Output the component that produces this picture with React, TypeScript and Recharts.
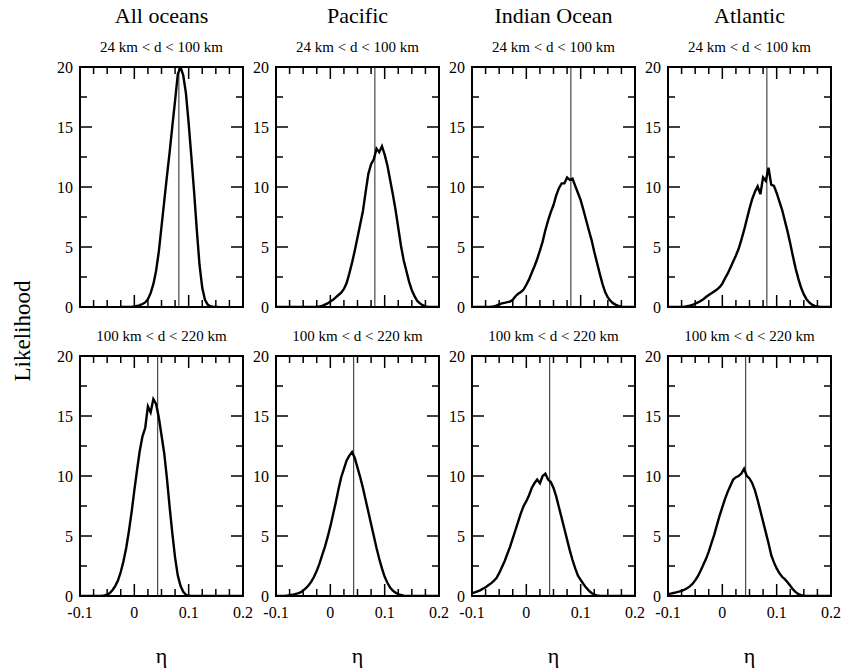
import { LineChart, Line, XAxis, YAxis, ReferenceLine, ReferenceArea } from "recharts";

// eta grid shared by every histogram
const eta = [
  -0.1, -0.095, -0.09, -0.085, -0.08, -0.075, -0.07, -0.065, -0.06, -0.055,
  -0.05, -0.045, -0.04, -0.035, -0.03, -0.025, -0.02, -0.015, -0.01, -0.005,
  0, 0.005, 0.01, 0.015, 0.02, 0.025, 0.03, 0.035, 0.04, 0.045,
  0.05, 0.055, 0.06, 0.065, 0.07, 0.075, 0.08, 0.085, 0.09, 0.095,
  0.1, 0.105, 0.11, 0.115, 0.12, 0.125, 0.13, 0.135, 0.14, 0.145,
  0.15, 0.155, 0.16, 0.165, 0.17, 0.175, 0.18, 0.185, 0.19, 0.195, 0.2,
];

// 24 km < d < 100 km
const allNear = [
  null, null, null, null, null, null, null, null, null, null,
  null, null, null, null, null, 0, 0, 0, 0, 0,
  0.05, 0.08, 0.15, 0.25, 0.38, 0.65, 1.15, 1.9, 3.0, 4.6,
  6.7, 8.8, 10.9, 12.9, 15.1, 17.2, 19.4, 20.0, 19.3, 17.8,
  15.3, 12.5, 9.6, 6.4, 3.5, 1.6, 0.6, 0.2, 0.06, 0.02,
  0, 0, null, null, null, null, null, null, null, null, null,
];
const pacificNear = [
  0, 0, 0, 0, 0, 0, 0, 0, 0, 0,
  0, 0, 0, 0, 0, 0.02, 0.05, 0.1, 0.2, 0.3,
  0.45, 0.6, 0.8, 1.0, 1.2, 1.5, 2.0, 2.8, 3.7, 4.7,
  5.8, 6.9, 8.0, 9.6, 11.1, 11.9, 12.3, 13.2, 12.9, 13.4,
  12.7, 11.8, 10.6, 9.4, 8.1, 6.6, 5.1, 3.9, 3.0, 2.1,
  1.4, 0.9, 0.5, 0.3, 0.15, 0.05, 0, 0, 0, 0, 0,
];
const indianNear = [
  0, 0, 0, 0, 0, 0, 0, 0.02, 0.05, 0.12,
  0.22, 0.3, 0.35, 0.4, 0.45, 0.6, 0.9, 1.1, 1.25, 1.45,
  1.85, 2.3, 2.85, 3.4, 4.0, 4.7, 5.45, 6.4, 7.2, 7.9,
  8.5, 9.3, 9.9, 10.3, 10.3, 10.8, 10.6, 10.7, 10.1, 9.5,
  8.9, 8.1, 7.25, 6.4, 5.6, 4.6, 3.7, 2.8, 1.95, 1.25,
  0.8, 0.5, 0.3, 0.18, 0.08, 0.03, 0, 0, 0, 0, 0,
];
const atlanticNear = [
  0, 0, 0, 0, 0, 0, 0.03, 0.07, 0.12, 0.18,
  0.27, 0.38, 0.5, 0.65, 0.83, 1.0, 1.15, 1.3, 1.45, 1.65,
  1.95, 2.4, 2.8, 3.3, 3.8, 4.3, 4.85, 5.6, 6.4, 7.3,
  8.2, 9.0, 9.6, 10.05, 9.4, 10.8, 10.5, 11.6, 10.2, 10.1,
  9.5, 8.8, 8.1, 7.2, 6.3, 5.3, 4.2, 3.2, 2.35, 1.6,
  1.05, 0.65, 0.38, 0.2, 0.1, 0.04, 0, 0, 0, 0, 0,
];

// 100 km < d < 220 km
const allFar = [
  0, 0, 0, 0, 0, 0, 0, 0, 0.02, 0.05,
  0.12, 0.25, 0.5, 0.85, 1.3, 2.0, 2.9, 4.0, 5.4, 7.0,
  8.8, 10.5, 12.1, 13.3, 14.0, 15.8, 15.3, 16.4, 16.0, 14.9,
  13.4, 11.9, 9.8, 7.4, 5.2, 3.2, 1.7, 0.85, 0.35, 0.1,
  0.02, 0, 0, 0, 0, 0, 0, 0, 0, 0,
  0, 0, 0, 0, 0, 0, 0, 0, 0, 0, 0,
];
const pacificFar = [
  0, 0, 0, 0, 0.03, 0.06, 0.1, 0.15, 0.22, 0.3,
  0.45, 0.65, 0.9, 1.2, 1.6, 2.1, 2.7, 3.4, 4.1, 4.9,
  5.8, 6.8, 7.8, 8.9, 9.9, 10.6, 11.3, 11.7, 12.0, 11.5,
  10.7, 9.9, 9.0, 8.0, 7.0, 6.0, 5.0, 4.0, 3.1, 2.3,
  1.6, 1.1, 0.7, 0.45, 0.28, 0.16, 0.08, 0.03, 0, 0,
  0, 0, 0, 0, 0, 0, 0, 0, 0, 0, 0,
];
const indianFar = [
  0.25, 0.3, 0.38, 0.47, 0.6, 0.72, 0.9, 1.05, 1.25, 1.5,
  1.9, 2.4, 2.9, 3.5, 4.1, 4.8, 5.5, 6.2, 6.9, 7.5,
  7.9, 8.4, 9.0, 9.4, 9.7, 9.4, 10.0, 10.2, 9.7, 9.5,
  9.0, 8.3, 7.4, 6.5, 5.6, 4.7, 3.8, 3.0, 2.3, 1.7,
  1.35, 1.0, 0.7, 0.45, 0.25, 0.12, 0.05, 0.02, 0, 0,
  0, 0, 0, 0, 0, 0, 0, 0, 0, 0, 0,
];
const atlanticFar = [
  0.15, 0.2, 0.25, 0.3, 0.36, 0.43, 0.52, 0.65, 0.8, 1.0,
  1.3, 1.65, 2.1, 2.6, 3.1, 3.7, 4.4, 5.1, 5.9, 6.7,
  7.4, 8.1, 8.7, 9.2, 9.7, 9.9, 10.0, 10.2, 10.6, 10.0,
  9.8, 9.4, 8.8, 8.0, 7.1, 6.2, 5.3, 4.4, 3.4, 2.8,
  2.3, 1.9, 1.6, 1.4, 1.15, 0.85, 0.55, 0.32, 0.16, 0.07,
  0.02, 0, 0, 0, 0, 0, 0, 0, 0, 0, 0,
];

const basins = ["All oceans", "Pacific", "Indian Ocean", "Atlantic"];
const bands = ["24 km < d < 100 km", "100 km < d < 220 km"];
const meanEta = [0.082, 0.043];
const curves = [
  [allNear, pacificNear, indianNear, atlanticNear],
  [allFar, pacificFar, indianFar, atlanticFar],
];

const xTicks = [-0.1, -0.075, -0.05, -0.025, 0, 0.025, 0.05, 0.075, 0.1, 0.125, 0.15, 0.175, 0.2];
const yTicks = [0, 2.5, 5, 7.5, 10, 12.5, 15, 17.5, 20];

const FONT = '"Liberation Serif", "DejaVu Serif", serif';
const PLOT_W = 163;
const PLOT_H = 240;
const AXIS_W = 40;
const AXIS_H = 30;
const PAD_T = 14;
const PAD_R = 18;
const COL_LEFT = [80, 276, 472, 668];
const ROW_TOP = [67, 356];

const isMajor = (v: number, step: number) => Math.abs(v / step - Math.round(v / step)) < 1e-6;

// ticks point inward on both opposite sides of the frame
function XTick({ x, y, payload, showLabel }: any) {
  const v = payload.value;
  const major = isMajor(v, 0.1);
  const len = major ? 12 : 7;
  return (
    <g>
      <line x1={x} y1={y} x2={x} y2={y - len} stroke="#000" strokeWidth={1.5} />
      <line x1={x} y1={y - PLOT_H} x2={x} y2={y - PLOT_H + len} stroke="#000" strokeWidth={1.5} />
      {showLabel && major && (
        <text x={x} y={y + 16} textAnchor="middle" dominantBaseline="central" fontFamily={FONT} fontSize={16} fill="#000">
          {v}
        </text>
      )}
    </g>
  );
}

function YTick({ x, y, payload }: any) {
  const v = payload.value;
  const major = isMajor(v, 5);
  const len = major ? 12 : 7;
  return (
    <g>
      <line x1={x} y1={y} x2={x + len} y2={y} stroke="#000" strokeWidth={1.5} />
      <line x1={x + PLOT_W} y1={y} x2={x + PLOT_W - len} y2={y} stroke="#000" strokeWidth={1.5} />
      {major && (
        <text x={x - 7} y={y} textAnchor="end" dominantBaseline="central" fontFamily={FONT} fontSize={16} fill="#000">
          {v}
        </text>
      )}
    </g>
  );
}

function Panel({ row, col }: { row: number; col: number }) {
  const values = curves[row][col];
  const data = eta.map((e, i) => ({ eta: e, v: values[i] }));
  return (
    <div style={{ position: "absolute", left: COL_LEFT[col] - AXIS_W, top: ROW_TOP[row] - PAD_T }}>
      <LineChart
        width={AXIS_W + PLOT_W + PAD_R}
        height={PAD_T + PLOT_H + AXIS_H}
        data={data}
        margin={{ top: PAD_T, right: PAD_R, bottom: 0, left: 0 }}
      >
        <XAxis
          dataKey="eta"
          type="number"
          domain={[-0.1, 0.2]}
          ticks={xTicks}
          interval={0}
          height={AXIS_H}
          axisLine={false}
          tickLine={false}
          tickSize={0}
          tickMargin={0}
          allowDataOverflow
          tick={(p: any) => <XTick {...p} showLabel={row === 1} />}
        />
        <YAxis
          type="number"
          domain={[0, 20]}
          ticks={yTicks}
          interval={0}
          width={AXIS_W}
          axisLine={false}
          tickLine={false}
          tickSize={0}
          tickMargin={0}
          allowDataOverflow
          tick={(p: any) => <YTick {...p} />}
        />
        <ReferenceArea x1={-0.1} x2={0.2} y1={0} y2={20} fill="none" stroke="#000" strokeWidth={2} />
        <ReferenceLine x={meanEta[row]} stroke="#222" strokeWidth={1} />
        <Line
          dataKey="v"
          type="linear"
          stroke="#000"
          strokeWidth={2.4}
          dot={false}
          activeDot={false}
          isAnimationActive={false}
        />
      </LineChart>
    </div>
  );
}

export default function App() {
  return (
    <div style={{ position: "absolute", left: 0, top: 0, width: 843, height: 671, background: "#fff" }}>
      {[0, 1].map((r) => basins.map((_, c) => <Panel key={`${r}-${c}`} row={r} col={c} />))}
      <svg width={843} height={671} style={{ position: "absolute", left: 0, top: 0, pointerEvents: "none" }}>
        {basins.map((b, c) => (
          <text key={b} x={COL_LEFT[c] + PLOT_W / 2} y={15} textAnchor="middle" dominantBaseline="central" fontFamily={FONT} fontSize={22} fill="#000">
            {b}
          </text>
        ))}
        {bands.map((band, r) =>
          basins.map((b, c) => (
            <text key={`${band}-${b}`} x={COL_LEFT[c] + PLOT_W / 2} y={ROW_TOP[r] - 20} textAnchor="middle" dominantBaseline="central" fontFamily={FONT} fontSize={15} fill="#000">
              {band}
            </text>
          ))
        )}
        {basins.map((b, c) => (
          <text key={`eta-${b}`} x={COL_LEFT[c] + PLOT_W / 2} y={655} textAnchor="middle" dominantBaseline="central" fontFamily={FONT} fontSize={22} fill="#000">
            η
          </text>
        ))}
        <text x={22} y={331} transform="rotate(-90 22 331)" textAnchor="middle" dominantBaseline="central" fontFamily={FONT} fontSize={23} fill="#000">
          Likelihood
        </text>
      </svg>
    </div>
  );
}
